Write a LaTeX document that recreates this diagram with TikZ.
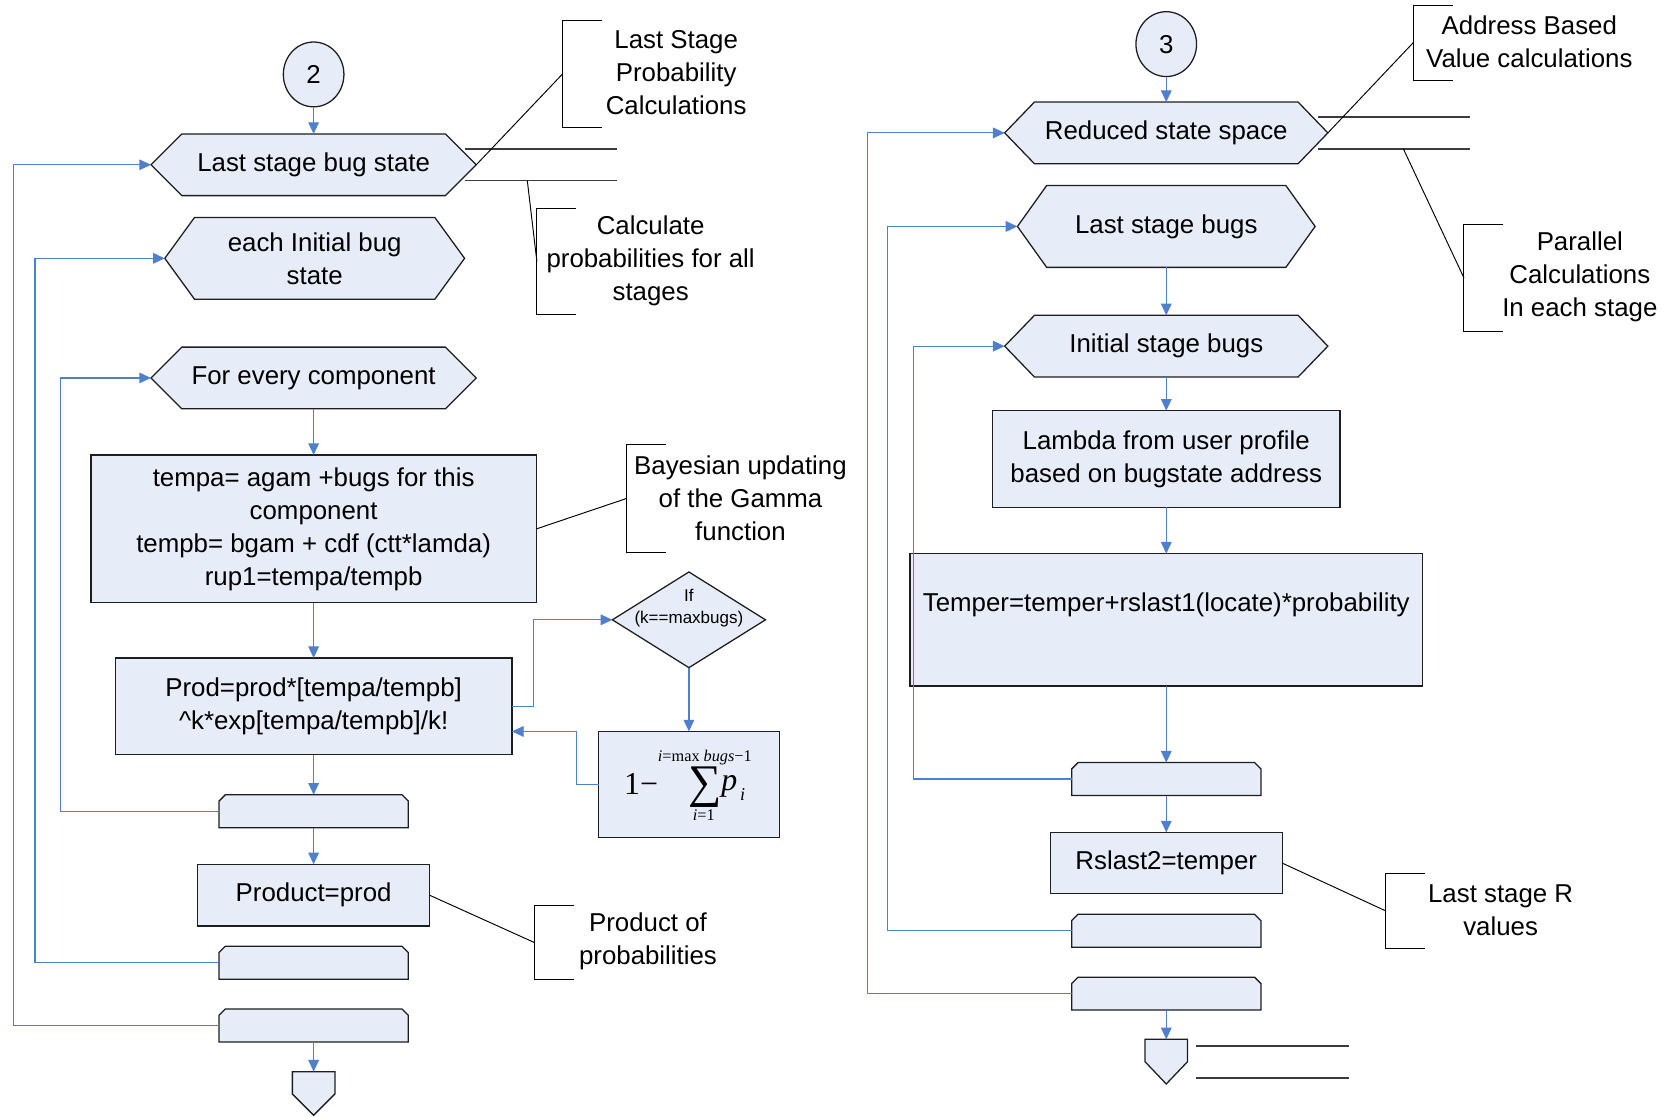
\documentclass[tikz,border=0pt]{standalone}
\usepackage{fontspec}
\setmainfont{Liberation Sans}
\newfontfamily\tnr{Liberation Serif}
\usetikzlibrary{arrows.meta,shapes.geometric,backgrounds}

\definecolor{shapefill}{RGB}{230,236,248}
\definecolor{shapeline}{RGB}{30,30,30}
\definecolor{flowblue}{RGB}{80,128,204}
\definecolor{datagray}{RGB}{60,60,60}

\tikzset{
  txt/.style={font=\fontsize{24.3}{31}\selectfont, align=center, inner sep=0pt, outer sep=0pt},
  slot/.style={txt},
  procbox/.style={txt, draw=shapeline, fill=shapefill, line width=1.2pt},
  shapebody/.style={draw=shapeline, fill=shapefill, line width=1.2pt},
  flow/.style={draw=flowblue, line width=1.1pt, -{Triangle[length=11pt,width=10pt]}},
  annot/.style={draw=black, line width=0.9pt},
  dataline/.style={draw=datagray, line width=1.4pt},
  bracketslot/.style={inner sep=0pt, outer sep=0pt, minimum width=37pt, anchor=west},
  connector/.style={ellipse, draw=shapeline, fill=shapefill, line width=1.2pt,
    minimum width=57pt, minimum height=61pt, inner sep=0pt, outer sep=0pt,
    font=\fontsize{24.3}{31}\selectfont},
  formula/.style={inner sep=0pt, outer sep=0pt, font=\tnr\fontsize{#1}{#1}\selectfont},
}

% outlines drawn behind the text slots
\newcommand\hexshape[2]{\filldraw[shapebody] (#1.west) -- ([xshift=#2pt]#1.north west)
  -- ([xshift=-#2pt]#1.north east) -- (#1.east) -- ([xshift=-#2pt]#1.south east)
  -- ([xshift=#2pt]#1.south west) -- cycle;}
\newcommand\loopshape[1]{\filldraw[shapebody] (#1.south west) -- ([yshift=-6pt]#1.north west)
  -- ([xshift=6pt]#1.north west) -- ([xshift=-6pt]#1.north east)
  -- ([yshift=-6pt]#1.north east) -- (#1.south east) -- cycle;}
\newcommand\offshape[1]{\filldraw[shapebody] (#1.north west) -- (#1.north east)
  -- ([yshift=-21pt]#1.north east) -- (#1.south) -- ([yshift=-21pt]#1.north west) -- cycle;}
\newcommand\diashape[1]{\filldraw[shapebody] (#1.west) -- (#1.north) -- (#1.east) -- (#1.south) -- cycle;}
\newcommand\bracketshape[1]{\draw[annot] (#1.north east) -- (#1.north west) -- (#1.south west) -- (#1.south east);}

\begin{document}
\begin{tikzpicture}[x=1pt,y=-1pt]
\useasboundingbox (0,0) rectangle (1568,1050);

% ---------------- left flow ----------------
\node[connector] (c2) at (295,70) {2};
\node[slot, minimum width=306pt, minimum height=58pt] (lsb) at (295,155) {Last stage bug state};
\node[slot, minimum width=282pt, minimum height=77pt] (eib) at (296,243) {each Initial bug\\state};
\node[slot, minimum width=306pt, minimum height=58pt] (fec) at (295,355.5) {For every component};
\node[procbox, minimum width=419pt, minimum height=139pt] (tpa) at (295,497.5)
  {tempa= agam +bugs for this\\component\\tempb= bgam + cdf (ctt*lamda)\\rup1=tempa/tempb};
\node[procbox, minimum width=373pt, minimum height=91pt] (prd) at (295,664.5)
  {Prod=prod*[tempa/tempb]\\\textasciicircum k*exp[tempa/tempb]/k!};
\node[slot, minimum width=178pt, minimum height=31pt] (lp1) at (295,763) {};
\node[procbox, minimum width=218pt, minimum height=58pt] (pdt) at (295,842) {Product=prod};
\node[slot, minimum width=178pt, minimum height=31pt] (lp2) at (295,905.5) {};
\node[slot, minimum width=178pt, minimum height=31pt] (lp3) at (295,964.5) {};
\node[slot, minimum width=40pt, minimum height=41pt] (off1) at (295,1028.5) {};

% decision and tail sum
\node[slot, minimum width=144pt, minimum height=90pt] (dia) at (648,583) {};
\node[font=\fontsize{16}{21}\selectfont, align=center, inner sep=0pt] (diatxt) at (648,572) {If\\(k==maxbugs)};
\node[procbox, minimum width=170pt, minimum height=100pt] (sum) at (648,738) {};
\node[formula=30] (sumone) at (603,737) {1−};
\node[formula=44] (sumsig) at (663,740) {∑};
\node[formula=15.3] (sumtop) at (663,712.5) {\textit{i}=max \textit{bugs}−1};
\node[formula=15.3] (sumbot) at (662,767) {\textit{i}=1};
\node[formula=30] (sump) at (686,740) {\textit{p}};
\node[formula=17] (sumi) at (698.5,747) {\textit{i}};

% ---------------- right flow ----------------
\node[connector] (c3) at (1097,41.5) {3};
\node[slot, minimum width=304pt, minimum height=58pt] (rss) at (1097,125) {Reduced state space};
\node[slot, minimum width=280pt, minimum height=77pt] (lsbg) at (1097,213) {Last stage bugs};
\node[slot, minimum width=304pt, minimum height=58pt] (isb) at (1097,325.6) {Initial stage bugs};
\node[procbox, minimum width=327pt, minimum height=91pt] (lam) at (1097,431.8)
  {Lambda from user profile\\based on bugstate address};
\node[procbox, minimum width=482pt, minimum height=124.5pt] (tmp) at (1097,583) {};
\node[txt] (tmptxt) at (1097,569) {Temper=temper+rslast1(locate)*probability};
\node[slot, minimum width=178pt, minimum height=31pt] (rl1) at (1097,732.8) {};
\node[procbox, minimum width=218pt, minimum height=57.6pt] (rsl) at (1097,811.8) {Rslast2=temper};
\node[slot, minimum width=178pt, minimum height=31pt] (rl2) at (1097,875.4) {};
\node[slot, minimum width=178pt, minimum height=31pt] (rl3) at (1097,934.6) {};
\node[slot, minimum width=40pt, minimum height=42pt] (off2) at (1097,998.6) {};

% ---------------- shapes behind the slots ----------------
\begin{pgfonlayer}{background}
  \hexshape{lsb}{29}
  \hexshape{eib}{28}
  \hexshape{fec}{29}
  \loopshape{lp1}
  \loopshape{lp2}
  \loopshape{lp3}
  \offshape{off1}
  \diashape{dia}
  \hexshape{rss}{28}
  \hexshape{lsbg}{27.5}
  \hexshape{isb}{28}
  \loopshape{rl1}
  \loopshape{rl2}
  \loopshape{rl3}
  \offshape{off2}
\end{pgfonlayer}

% ---------------- left connectors ----------------
\draw[flow] (c2.south) -- (lsb.north);
\draw[flow] (fec.south) -- (tpa.north);
\draw[flow] (tpa.south) -- (prd.north);
\draw[flow] (prd.south) -- (lp1.north);
\draw[flow] (lp1.south) -- (pdt.north);
\draw[flow] (lp3.south) -- (off1.north);
\draw[flow] (prd.east) -- ++(20,0) |- (dia.west);
\draw[flow] (dia.south) -- (sum.north);
\draw[flow] (sum.west) -- ++(-21,0) |- ([yshift=-23.5pt]prd.east);
\draw[flow] (lp1.west) -- ++(-149,0) |- (fec.west);
\draw[flow] (lp2.west) -- ++(-173,0) |- (eib.west);
\draw[flow] (lp3.west) -- ++(-193,0) |- (lsb.west);

% ---------------- right connectors ----------------
\draw[flow] (c3.south) -- (rss.north);
\draw[flow] (lsbg.south) -- (isb.north);
\draw[flow] (isb.south) -- (lam.north);
\draw[flow] (lam.south) -- (tmp.north);
\draw[flow] (tmp.south) -- (rl1.north);
\draw[flow] (rl1.south) -- (rsl.north);
\draw[flow] (rl3.south) -- (off2.north);
\draw[flow] (rl1.west) -- ++(-149,0) |- (isb.west);
\draw[flow] (rl2.west) -- ++(-173,0) |- (lsbg.west);
\draw[flow] (rl3.west) -- ++(-192,0) |- (rss.west);

% ---------------- data lines ----------------
\draw[dataline] (437,140) -- (580,140);
\draw[dataline] (437,170) -- (580,170);
\draw[dataline] (1240,110) -- (1383,110);
\draw[dataline] (1240,140) -- (1383,140);
\draw[dataline] (1125,984) -- (1269,984);
\draw[dataline] (1125,1014) -- (1269,1014);
\coordinate (p2) at (496,170);
\coordinate (p6) at (1320,140);

% ---------------- annotations ----------------
\node[bracketslot, minimum height=101pt] (br1) at (529,69.7) {};
\node[bracketslot, minimum height=100pt] (br2) at (505,246) {};
\node[bracketslot, minimum height=101.5pt] (br3) at (589.5,468.8) {};
\node[bracketslot, minimum height=70pt] (br4) at (503,886.7) {};
\node[bracketslot, minimum height=70.6pt] (br5) at (1329.4,40) {};
\node[bracketslot, minimum height=101.3pt] (br6) at (1377,261.4) {};
\node[bracketslot, minimum height=70.2pt] (br7) at (1303,856.6) {};
\bracketshape{br1}
\bracketshape{br2}
\bracketshape{br3}
\bracketshape{br4}
\bracketshape{br5}
\bracketshape{br6}
\bracketshape{br7}
\draw[annot] (br1.west) -- (lsb.east);
\draw[annot] (br2.west) -- (p2);
\draw[annot] (br3.west) -- (tpa.east);
\draw[annot] (br4.west) -- (pdt.east);
\draw[annot] (br5.west) -- (rss.east);
\draw[annot] (br6.west) -- (p6);
\draw[annot] (br7.west) -- (rsl.east);

\node[txt] (t1) at (636,68.5) {Last Stage\\Probability\\Calculations};
\node[txt] (t2) at (612,245.5) {Calculate\\probabilities for all\\stages};
\node[txt] (t3) at (696.5,468.5) {Bayesian updating\\of the Gamma\\function};
\node[txt] (t4) at (609.5,885.5) {Product of\\probabilities};
\node[txt] (t5) at (1438.5,39) {Address Based\\Value calculations};
\node[txt] (t6) at (1486,260.5) {Parallel\\Calculations\\In each stage};
\node[txt] (t7) at (1411.5,856) {Last stage R\\values};
\end{tikzpicture}
\end{document}
